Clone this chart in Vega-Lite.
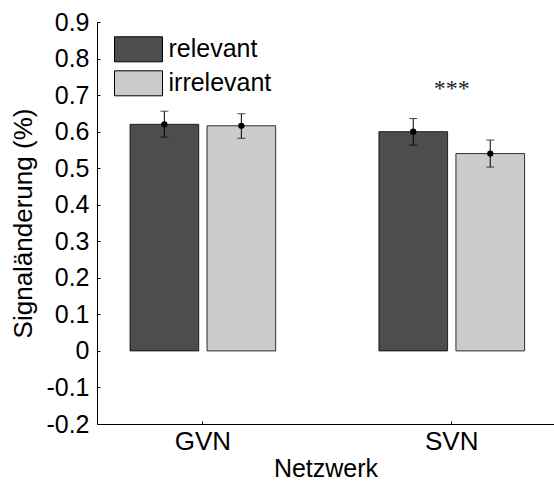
{
  "$schema": "https://vega.github.io/schema/vega-lite/v6.json",
  "autosize": "none",
  "width": 457,
  "height": 402,
  "padding": {"left": 97, "top": 22, "right": 0, "bottom": 57},
  "background": "white",
  "config": {
    "font": "Liberation Sans",
    "view": {"stroke": null},
    "axis": {
      "domainColor": "black",
      "tickColor": "black",
      "labelColor": "black",
      "titleColor": "black",
      "labelFont": "Liberation Sans",
      "titleFont": "Liberation Sans",
      "labelFontSize": 25,
      "titleFontSize": 25,
      "titleFontWeight": "normal",
      "labelOverlap": false,
      "labelFlush": false,
      "grid": false
    }
  },
  "datasets": {
    "signal": [
      {"Netzwerk": "GVN", "Bedingung": "relevant", "mean": 0.62, "lo": 0.585, "hi": 0.656},
      {"Netzwerk": "GVN", "Bedingung": "irrelevant", "mean": 0.616, "lo": 0.582, "hi": 0.649},
      {"Netzwerk": "SVN", "Bedingung": "relevant", "mean": 0.6, "lo": 0.563, "hi": 0.636},
      {"Netzwerk": "SVN", "Bedingung": "irrelevant", "mean": 0.54, "lo": 0.503, "hi": 0.577}
    ],
    "significance": [
      {"Netzwerk": "SVN", "y": 0.7235, "label": "***"}
    ]
  },
  "layer": [
    {
      "data": {"name": "signal"},
      "mark": {"type": "bar", "stroke": "black", "strokeWidth": 0.8, "opacity": 1},
      "encoding": {
        "x": {
          "field": "Netzwerk",
          "type": "nominal",
          "scale": {"paddingInner": 0.4147, "paddingOuter": 0.1254, "align": 0.529},
          "axis": {
            "title": "Netzwerk",
            "labelAngle": 0,
            "labelFontSize": 26,
            "titleFontSize": 25,
            "tickSize": -3,
            "labelPadding": 7,
            "titlePadding": 2,
            "domainWidth": 1
          }
        },
        "xOffset": {
          "field": "Bedingung",
          "type": "nominal",
          "sort": ["relevant", "irrelevant"],
          "scale": {"paddingInner": 0.108, "paddingOuter": 0}
        },
        "y": {
          "field": "mean",
          "type": "quantitative",
          "scale": {"domain": [-0.2, 0.9], "nice": false, "zero": false},
          "axis": {
            "title": "Signaländerung (%)",
            "titleFontSize": 26,
            "values": [-0.2, -0.1, 0, 0.1, 0.2, 0.3, 0.4, 0.5, 0.6, 0.7, 0.8, 0.9],
            "tickCount": 12,
            "labelOverlap": false,
            "labelFlush": false,
            "labelExpr": "(datum.value < 0 ? '-' : '') + format(abs(datum.value), '.1~f')",
            "tickSize": -3,
            "labelPadding": 11,
            "titlePadding": 9,
            "domainWidth": 1
          }
        },
        "color": {
          "field": "Bedingung",
          "type": "nominal",
          "scale": {"domain": ["relevant", "irrelevant"], "range": ["#4d4d4d", "#cccccc"]},
          "legend": {
            "orient": "none",
            "legendX": 28.5,
            "legendY": 14.3,
            "padding": 0,
            "title": null,
            "symbolType": "M-1.92,-1H1.92V1H-1.92Z",
            "symbolSize": 625,
            "symbolStrokeColor": "black",
            "symbolStrokeWidth": 1,
            "symbolOpacity": 1,
            "labelFontSize": 25,
            "labelFont": "Liberation Sans",
            "labelColor": "black",
            "labelOffset": 17,
            "rowPadding": 4
          }
        }
      }
    },
    {
      "data": {"name": "signal"},
      "mark": {"type": "rule", "color": "black", "strokeWidth": 1},
      "encoding": {
        "x": {"field": "Netzwerk", "type": "nominal"},
        "xOffset": {"field": "Bedingung", "type": "nominal", "sort": ["relevant", "irrelevant"]},
        "y": {"field": "lo", "type": "quantitative"},
        "y2": {"field": "hi"}
      }
    },
    {
      "data": {"name": "signal"},
      "mark": {"type": "tick", "color": "black", "thickness": 1, "size": 8, "orient": "horizontal"},
      "encoding": {
        "x": {"field": "Netzwerk", "type": "nominal"},
        "xOffset": {"field": "Bedingung", "type": "nominal", "sort": ["relevant", "irrelevant"]},
        "y": {"field": "hi", "type": "quantitative"}
      }
    },
    {
      "data": {"name": "signal"},
      "mark": {"type": "tick", "color": "black", "thickness": 1, "size": 8, "orient": "horizontal"},
      "encoding": {
        "x": {"field": "Netzwerk", "type": "nominal"},
        "xOffset": {"field": "Bedingung", "type": "nominal", "sort": ["relevant", "irrelevant"]},
        "y": {"field": "lo", "type": "quantitative"}
      }
    },
    {
      "data": {"name": "signal"},
      "mark": {"type": "circle", "color": "black", "opacity": 1, "size": 40},
      "encoding": {
        "x": {"field": "Netzwerk", "type": "nominal"},
        "xOffset": {"field": "Bedingung", "type": "nominal", "sort": ["relevant", "irrelevant"]},
        "y": {"field": "mean", "type": "quantitative"}
      }
    },
    {
      "mark": {"type": "rule", "color": "black", "strokeWidth": 1},
      "encoding": {"y": {"datum": 0}}
    },
    {
      "mark": {"type": "rule", "color": "black", "strokeWidth": 1},
      "encoding": {"y": {"datum": 0.9}}
    },
    {
      "data": {"name": "significance"},
      "mark": {"type": "text", "font": "Liberation Serif", "fontSize": 24, "baseline": "middle", "align": "center", "dy": 2, "color": "#222222"},
      "encoding": {
        "x": {"field": "Netzwerk", "type": "nominal"},
        "y": {"field": "y", "type": "quantitative"},
        "text": {"field": "label"}
      }
    }
  ]
}
